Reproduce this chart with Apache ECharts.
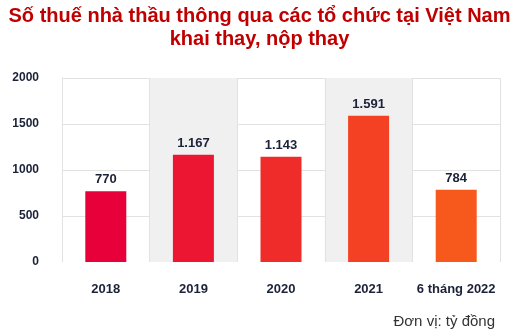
<!DOCTYPE html>
<html>
<head>
<meta charset="utf-8">
<script src="https://cdn.jsdelivr.net/npm/echarts@6/dist/echarts.min.js"></script>
<style>
html,body{margin:0;padding:0;background:#fff;}
#c{width:519px;height:330px;}
</style>
</head>
<body>
<div id="c"></div>
<script>
var categories = ['2018', '2019', '2020', '2021', '6 tháng 2022'];
var values = [770, 1167, 1143, 1591, 784];
var valueLabels = ['770', '1.167', '1.143', '1.591', '784'];
var barColors = ['#e8003a', '#ec1532', '#f02c2a', '#f44123', '#f7581b'];
var yTicks = [0, 500, 1000, 1500, 2000];

var chart = echarts.init(document.getElementById('c'), null, {renderer: 'canvas'});
chart.setOption({
  animation: false,
  backgroundColor: '#ffffff',
  title: [{
    text: 'Số thuế nhà thầu thông qua các tổ chức tại Việt Nam\nkhai thay, nộp thay',
    left: 'center',
    top: 0,
    textStyle: {
      fontFamily: 'Liberation Sans, Arial, sans-serif',
      fontWeight: 'bold',
      fontSize: 20,
      lineHeight: 23,
      color: '#c00000'
    }
  }, {
    text: 'Đơn vị: tỷ đồng',
    right: 19,
    top: 309,
    textStyle: {
      fontFamily: 'Liberation Sans, Arial, sans-serif',
      fontWeight: 'normal',
      fontSize: 15,
      color: '#333333'
    }
  }],
  grid: {left: 62, right: 19, top: 78, bottom: 68},
  xAxis: {
    type: 'category',
    data: categories,
    axisLine: {show: false},
    axisTick: {show: false, interval: 0},
    splitLine: {show: true, interval: 0, lineStyle: {color: '#e2e2e2', width: 1}},
    splitArea: {show: true, interval: 0, areaStyle: {color: ['rgba(255,255,255,0)', '#f0f0f0']}},
    axisLabel: {
      interval: 0,
      margin: 21,
      fontFamily: 'Liberation Sans, Arial, sans-serif',
      fontWeight: 'bold',
      fontSize: 13,
      color: '#1b2238'
    }
  },
  yAxis: {
    type: 'value',
    min: yTicks[0],
    max: yTicks[yTicks.length - 1],
    interval: 500,
    axisLine: {show: true, lineStyle: {color: '#e2e2e2'}},
    axisTick: {show: false},
    splitLine: {show: true, showMinLine: false, lineStyle: {color: '#e2e2e2', width: 1}},
    axisLabel: {
      margin: 23,
      formatter: function (v) { return String(v); },
      fontFamily: 'Liberation Sans, Arial, sans-serif',
      fontWeight: 'bold',
      fontSize: 12,
      color: '#1b2238'
    }
  },
  series: [{
    type: 'bar',
    barWidth: 41,
    data: values.map(function (v, i) {
      return {value: v, itemStyle: {color: barColors[i]}};
    }),
    label: {
      show: true,
      position: 'top',
      distance: 5,
      fontFamily: 'Liberation Sans, Arial, sans-serif',
      fontWeight: 'bold',
      fontSize: 13,
      color: '#1b2238',
      formatter: function (p) { return valueLabels[p.dataIndex]; }
    }
  }]
});
</script>
</body>
</html>
